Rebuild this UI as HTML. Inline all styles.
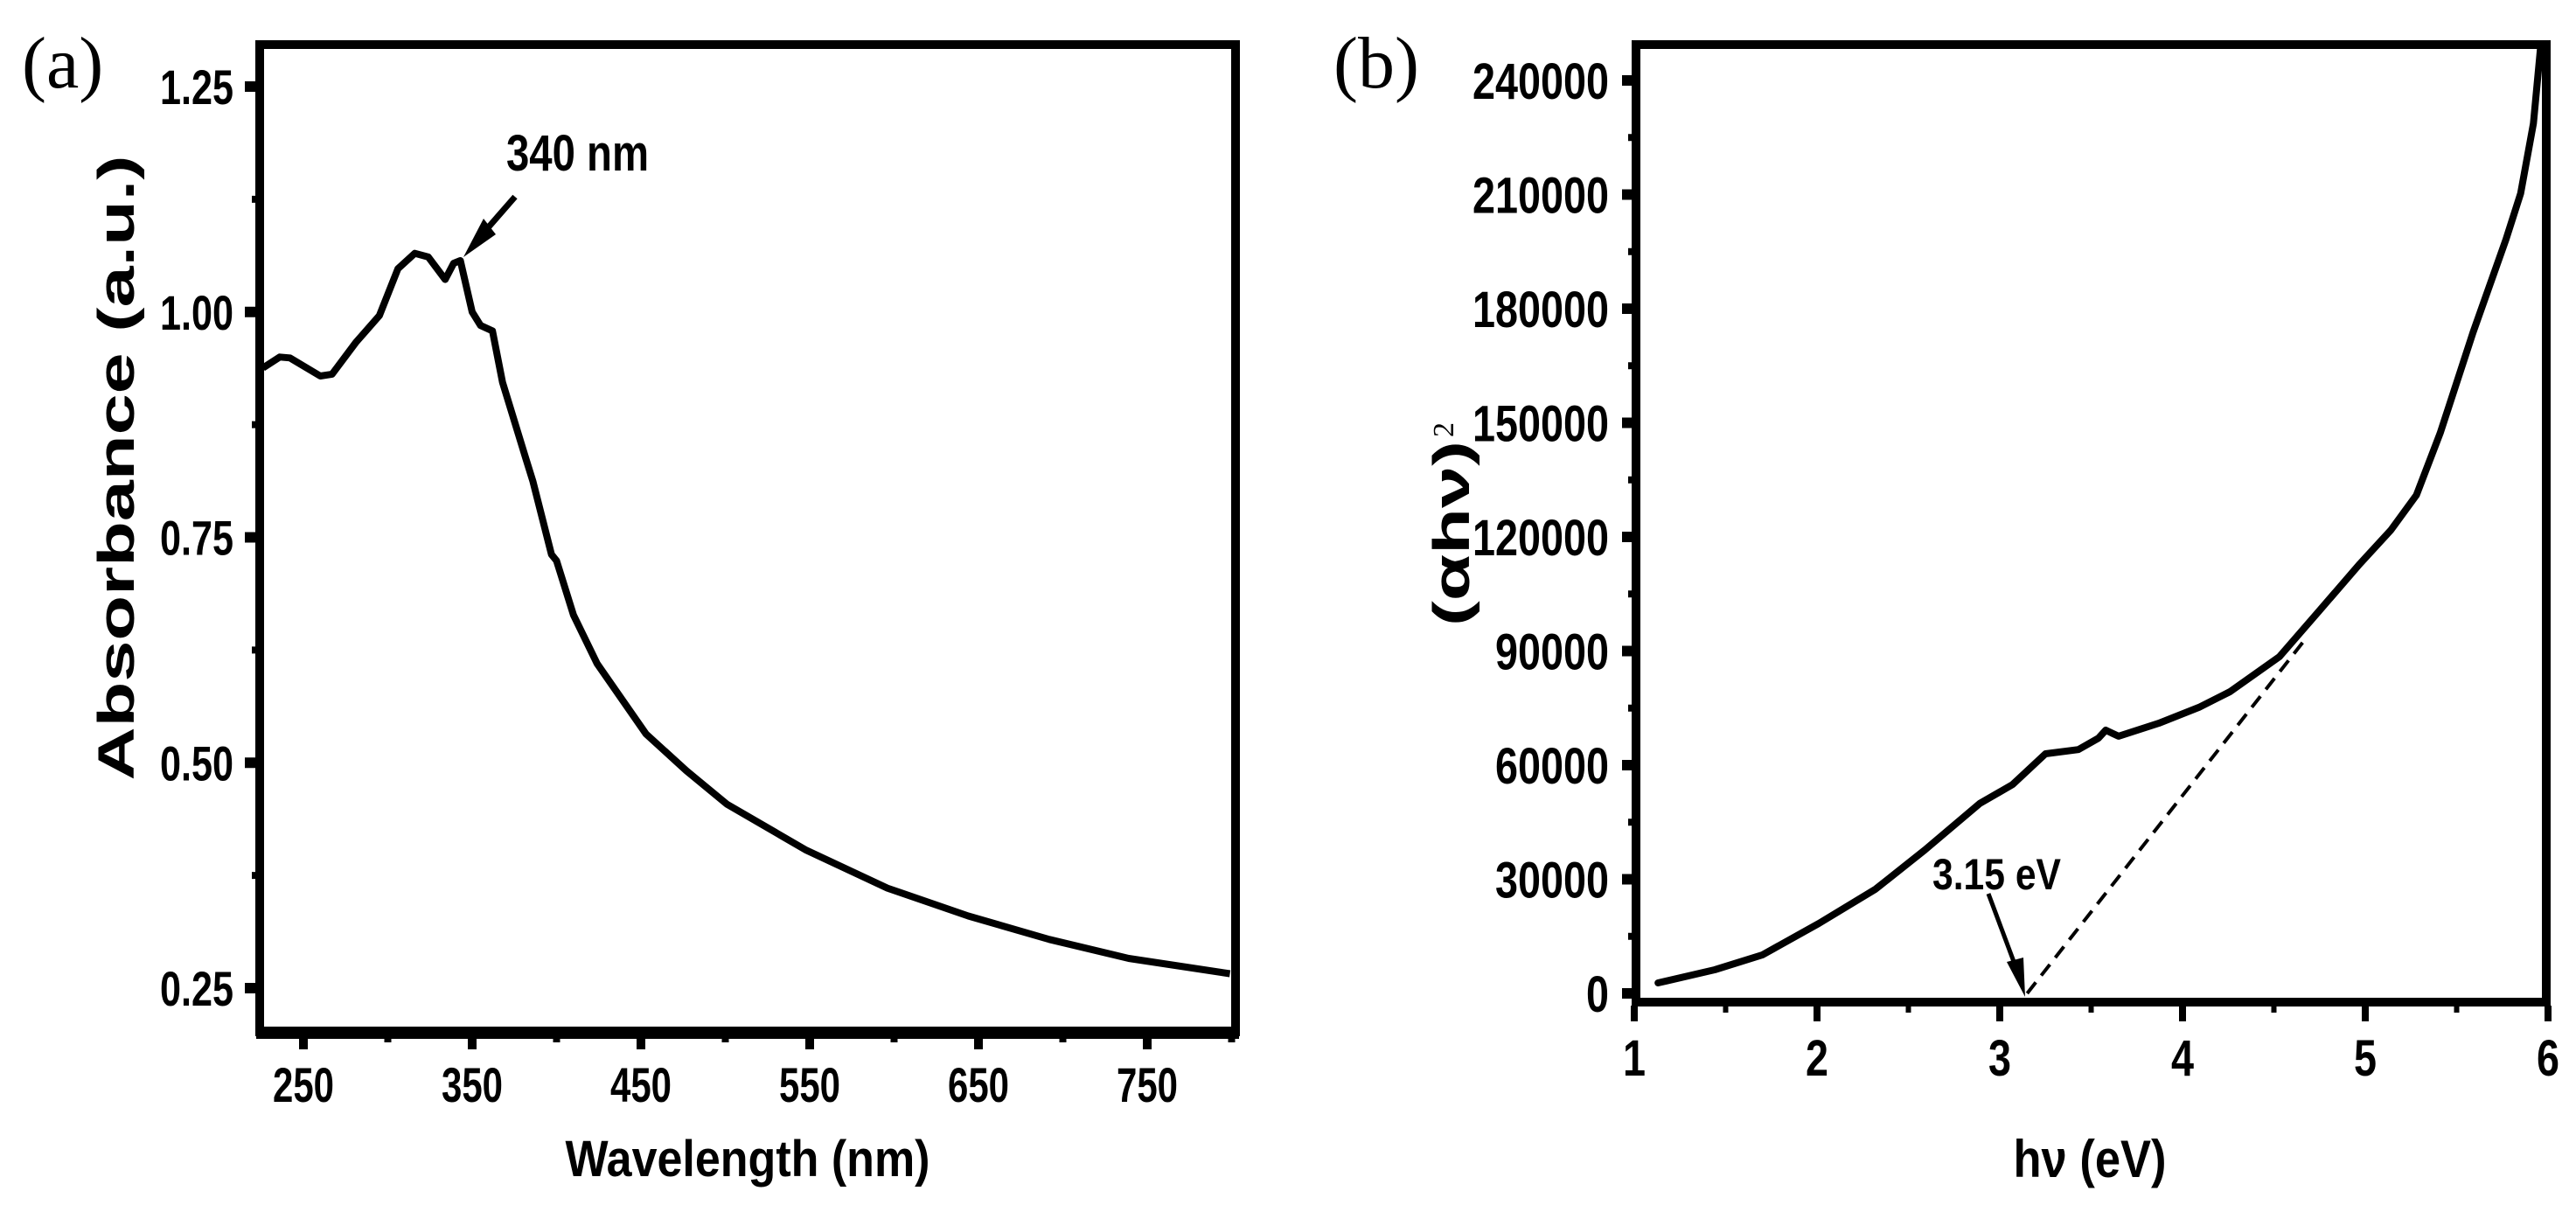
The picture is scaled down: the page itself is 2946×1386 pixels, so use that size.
<!DOCTYPE html>
<html><head><meta charset="utf-8"><style>
html,body{margin:0;padding:0;background:#fff;}
svg{display:block;}
text{font-family:"Liberation Sans",Arial,sans-serif;font-weight:bold;fill:#000;}
.serif{font-family:"Liberation Serif",serif;font-weight:normal;}
</style></head><body>
<svg id="fig" width="2946" height="1386" viewBox="0 0 2946 1386" xmlns="http://www.w3.org/2000/svg">
<g id="pa"></g>
<g id="pb"></g>
</svg>
<script>
// Panel (a) data
const wlNm = [226,236,242,260,267,281,295,306,316,324,334,339,343,350,355,362,368,382,386,397,400,410,424,453,477,501,548,596,644,692,739,799];
const absVal = [0.938,0.950,0.949,0.929,0.931,0.966,0.996,1.048,1.065,1.061,1.036,1.054,1.057,1.000,0.985,0.979,0.922,0.836,0.812,0.731,0.724,0.664,0.610,0.532,0.491,0.454,0.403,0.361,0.330,0.304,0.283,0.266];
const aXTicks = [250,350,450,550,650,750];
const aYTicks = [0.25,0.50,0.75,1.00,1.25];
const aYLabels = ["0.25","0.50","0.75","1.00","1.25"];
// Panel (b) data
const hvEv = [1.13,1.44,1.70,2.01,2.32,2.59,2.89,3.07,3.25,3.43,3.54,3.58,3.65,3.87,4.09,4.26,4.53,4.75,4.97,5.14,5.28,5.41,5.59,5.77,5.85,5.92,5.96];
const ahv2 = [2760,6200,10100,18400,27400,37700,49900,54900,63000,64100,67100,69200,67600,71000,75200,79300,88500,100700,112900,121800,131000,147300,173800,198200,210300,228700,249000];
const bXTicks = [1,2,3,4,5,6];
const bYTicks = [0,30000,60000,90000,120000,150000,180000,210000,240000];
const fitLineX = [3.15,4.66];
const fitLineY = [0,92400];
const NS="http://www.w3.org/2000/svg";
function mk(parent,tag,attrs,txt){const e=document.createElementNS(NS,tag);for(const k in attrs)e.setAttribute(k,attrs[k]);if(txt!==undefined)e.textContent=txt;parent.appendChild(e);return e;}

// ---------- Panel a ----------
const pa=document.getElementById('pa');
const ax=v=>347+(v-250)*1.93;
const ay=v=>1130-(v-0.25)*1031;
let e;
e=mk(pa,'text',{x:25,y:100,'font-size':84,class:'serif'},'(a)');


e=mk(pa,'path',{d:'M297 51 H1413 V1180 H297 Z',fill:'none',stroke:'#000','stroke-width':10});


e=mk(pa,'line',{x1:293,x2:1417,y1:1181,y2:1181,stroke:'#000','stroke-width':14});


aYTicks.forEach((v,i)=>{
  e=mk(pa,'line',{x1:280,x2:297,y1:ay(v),y2:ay(v),stroke:'#000','stroke-width':12});
  
  
  e=mk(pa,'text',{x:267,y:ay(v)+20,'font-size':56,'text-anchor':'end',textLength:84,lengthAdjust:'spacingAndGlyphs'},aYLabels[i]);
  
  
  if(v<1.25){e=mk(pa,'line',{x1:288,x2:297,y1:ay(v+0.125),y2:ay(v+0.125),stroke:'#000','stroke-width':8});
  
  }
});
aXTicks.forEach(v=>{
  e=mk(pa,'line',{x1:ax(v),x2:ax(v),y1:1186,y2:1200,stroke:'#000','stroke-width':10});
  
  
  e=mk(pa,'text',{x:ax(v),y:1260,'font-size':56,'text-anchor':'middle',textLength:70,lengthAdjust:'spacingAndGlyphs'},String(v));
  
  
  e=mk(pa,'line',{x1:ax(v+50),x2:ax(v+50),y1:1186,y2:1192,stroke:'#000','stroke-width':8});
  
  
});
e=mk(pa,'text',{x:855,y:1345,'font-size':58,'text-anchor':'middle',textLength:417,lengthAdjust:'spacingAndGlyphs'},'Wavelength (nm)');


e=mk(pa,'text',{x:0,y:0,'font-size':58,'text-anchor':'middle',textLength:715,lengthAdjust:'spacingAndGlyphs',transform:'translate(153,535) rotate(-90)'},'Absorbance (a.u.)');


e=mk(pa,'path',{d:wlNm.map((v,i)=>(i?'L':'M')+ax(v).toFixed(1)+' '+ay(absVal[i]).toFixed(1)).join(' '),fill:'none',stroke:'#000','stroke-width':8,'stroke-linejoin':'round'});


e=mk(pa,'text',{x:579,y:195,'font-size':58,textLength:163,lengthAdjust:'spacingAndGlyphs'},'340 nm');


e=mk(pa,'line',{x1:589,y1:225,x2:548,y2:272,stroke:'#000','stroke-width':7});


e=mk(pa,'path',{d:'M530 294 L553 250 L567 268 Z',fill:'#000'});



// ---------- Panel b ----------
const pb=document.getElementById('pb');
const bx=v=>1869+(v-1)*209;
const by=v=>1136-v/30000*130.5;
e=mk(pb,'text',{x:1525,y:100,'font-size':84,class:'serif'},'(b)');


e=mk(pb,'path',{d:'M1871 51 H2912 V1146 H1871 Z',fill:'none',stroke:'#000','stroke-width':10});


bYTicks.forEach(v=>{
  e=mk(pb,'line',{x1:1855,x2:1871,y1:by(v),y2:by(v),stroke:'#000','stroke-width':12});
  
  
  const s=String(v);
  e=mk(pb,'text',{x:1840,y:by(v)+21,'font-size':58,'text-anchor':'end',textLength:s.length*26,lengthAdjust:'spacingAndGlyphs'},s);
  
  
  if(v<240000){e=mk(pb,'line',{x1:1862,x2:1871,y1:by(v+15000),y2:by(v+15000),stroke:'#000','stroke-width':8});
  
  }
});
bXTicks.forEach(v=>{
  e=mk(pb,'line',{x1:bx(v),x2:bx(v),y1:1150,y2:1168,stroke:'#000','stroke-width':8});
  
  
  e=mk(pb,'text',{x:bx(v),y:1230,'font-size':58,'text-anchor':'middle',textLength:26,lengthAdjust:'spacingAndGlyphs'},String(v));
  
  
  if(v<6){e=mk(pb,'line',{x1:bx(v+0.5),x2:bx(v+0.5),y1:1150,y2:1158,stroke:'#000','stroke-width':6});
  
  }
});
e=mk(pb,'text',{x:2390,y:1346,'font-size':60,'text-anchor':'middle',textLength:175,lengthAdjust:'spacingAndGlyphs'},'hν (eV)');


e=mk(pb,'text',{x:0,y:0,'font-size':58,'text-anchor':'middle',textLength:212,lengthAdjust:'spacingAndGlyphs',transform:'translate(1680,610) rotate(-90)'},'(αhν)');


e=mk(pb,'text',{x:0,y:0,'font-size':34,class:'serif',transform:'translate(1662,500) rotate(-90)'},'2');


e=mk(pb,'path',{d:hvEv.map((v,i)=>(i?'L':'M')+bx(v).toFixed(1)+' '+by(ahv2[i]).toFixed(1)).join(' '),fill:'none',stroke:'#000','stroke-width':8,'stroke-linejoin':'round','stroke-linecap':'round'});


e=mk(pb,'line',{x1:bx(fitLineX[0]),y1:by(fitLineY[0]),x2:bx(fitLineX[1]),y2:by(fitLineY[1]),stroke:'#000','stroke-width':4,'stroke-dasharray':'16 10'});


e=mk(pb,'text',{x:2210,y:1017,'font-size':50,textLength:147,lengthAdjust:'spacingAndGlyphs'},'3.15 eV');


e=mk(pb,'line',{x1:2274,y1:1022,x2:2305,y2:1105,stroke:'#000','stroke-width':5});


e=mk(pb,'path',{d:'M2316 1140 L2295 1100 L2314 1095 Z',fill:'#000'});


</script>
</body></html>
